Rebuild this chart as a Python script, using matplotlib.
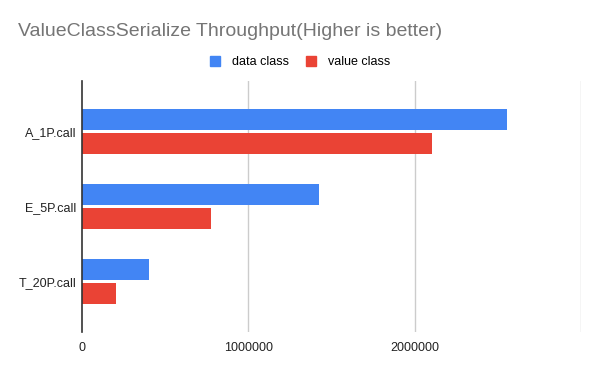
import matplotlib
matplotlib.use('Agg')
import matplotlib.pyplot as plt
import numpy as np
from matplotlib.patches import Patch

plt.rcParams['font.family'] = ['Liberation Sans', 'DejaVu Sans']

categories = ['A_1P.call', 'E_5P.call', 'T_20P.call']
data_class = [2558000, 1425000, 405000]
value_class = [2103000, 778000, 207000]
series_names = ['data class', 'value class']
colors = ['#4285f4', '#ea4335']
xticks = [0, 1000000, 2000000, 3000000]
xtick_labels = ['0', '1000000', '2000000', '']

fig = plt.figure(figsize=(6, 3.71), dpi=100)
# plot area in pixels: x 82..581, y 81..332
ax = fig.add_axes([82 / 600, 1 - 332 / 371, (581 - 82) / 600, (332 - 81) / 371])

y = np.arange(len(categories))
h = 0.29
ax.barh(y - 0.16, data_class, height=h, color=colors[0], zorder=3)
ax.barh(y + 0.16, value_class, height=h, color=colors[1], zorder=3)

ax.set_ylim(2.675, -0.675)
ax.set_xlim(0, 3000000)
ax.set_yticks(y)
ax.set_yticklabels(categories, fontsize=9, color='#222222')
ax.set_xticks(xticks)
ax.set_xticklabels(xtick_labels, fontsize=9, color='#222222')
ax.tick_params(length=0, pad=4)
ax.tick_params(axis='x', pad=7)

for v in xticks[1:]:
    ax.axvline(v, color='#cccccc', linewidth=1, zorder=1)
for s in ['top', 'right', 'bottom']:
    ax.spines[s].set_visible(False)
ax.spines['left'].set_color('#333333')
ax.spines['left'].set_linewidth(1.2)
ax.spines['left'].set_zorder(4)

fig.text(18 / 600, 1 - 32 / 371, 'ValueClassSerialize Throughput(Higher is better)',
         fontsize=14, color='#757575', va='center', ha='left')

handles = [Patch(facecolor=c, edgecolor=c) for c in colors]
fig.legend(handles, series_names, loc='center', bbox_to_anchor=(0.5, 1 - 62 / 371),
           ncol=2, frameon=False, fontsize=9, handlelength=0.8, handleheight=0.8,
           handletextpad=1.0, columnspacing=1.3, borderaxespad=0)

plt.savefig('out.png', dpi=100)
